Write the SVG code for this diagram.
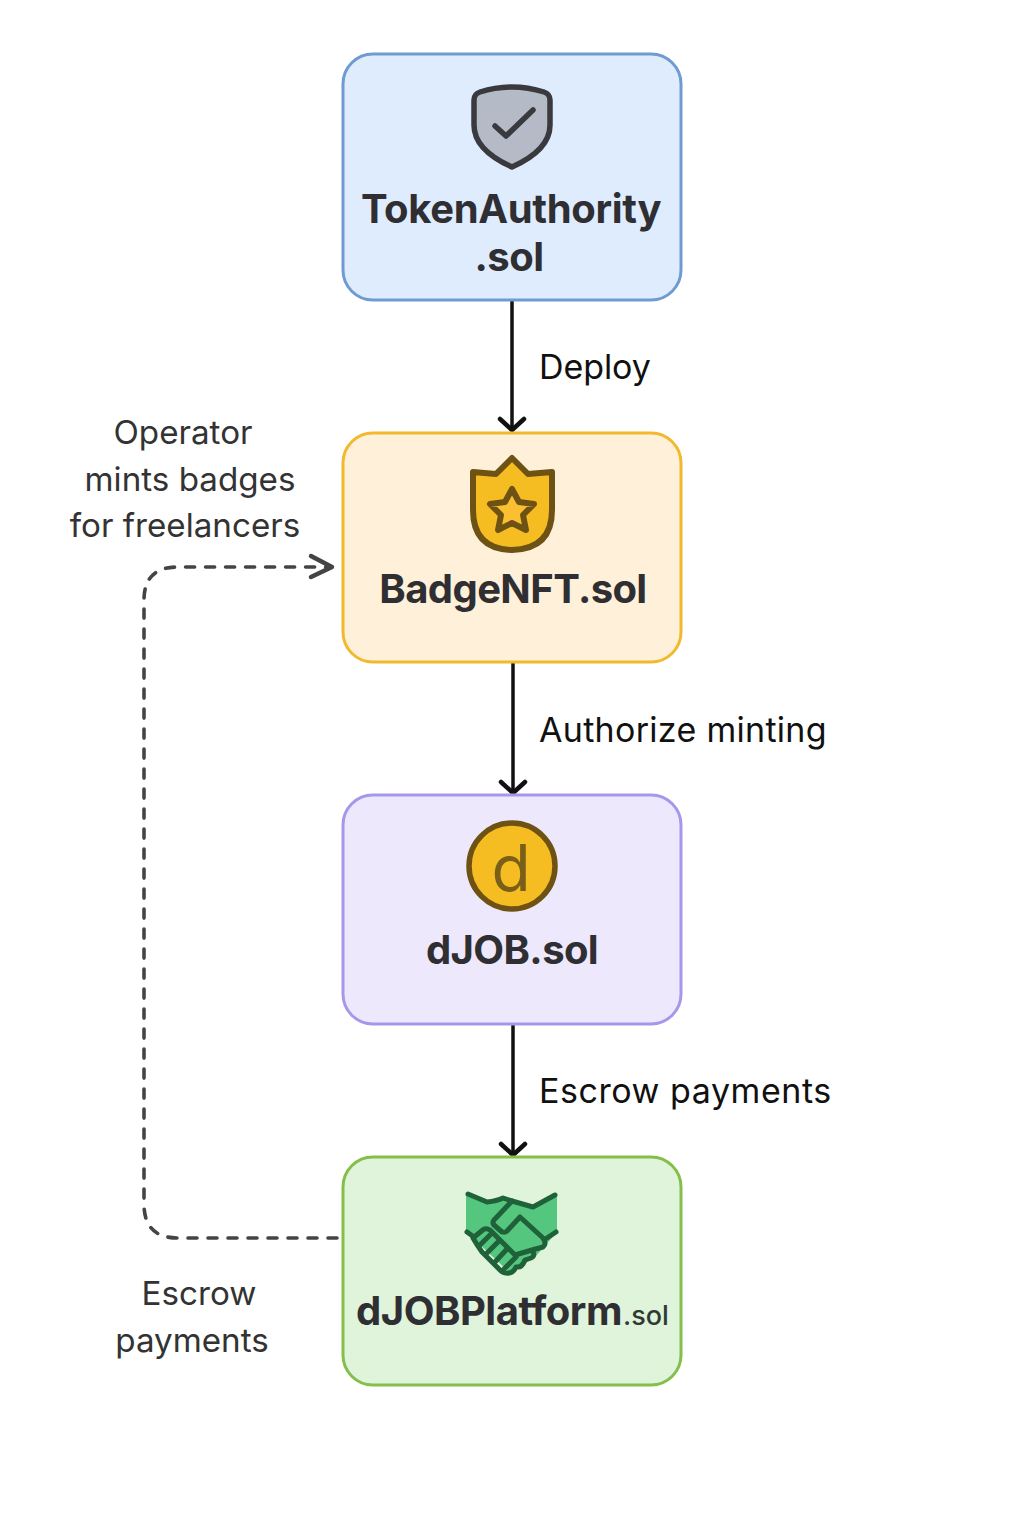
<svg xmlns="http://www.w3.org/2000/svg" width="1024" height="1536" viewBox="0 0 1024 1536">
<style>
.box{stroke-width:3}
.t{font-family:Inter,"Liberation Sans",sans-serif;font-weight:700;font-size:40px;fill:#2f2f33;text-anchor:middle;letter-spacing:-.5px}
.l{font-family:Inter,"Liberation Sans",sans-serif;font-size:34px;fill:#111;letter-spacing:.3px}
.n{font-family:Inter,"Liberation Sans",sans-serif;font-size:33.2px;fill:#333;text-anchor:middle}
.c{fill:none;stroke:#111;stroke-width:3.5;stroke-linecap:round;stroke-linejoin:round}
.h{stroke-width:4.5}
.d{fill:none;stroke:#444;stroke-width:3.6;stroke-linecap:round;stroke-linejoin:round}
.ic{stroke-linecap:round;stroke-linejoin:round}
</style>
<rect width="1024" height="1536" fill="#fff"/>
<g id="connectors">
<path class="c" d="M512 301V428"/><path class="c h" d="M500 419L512 430L524 419"/>
<path class="c" d="M513 663V791"/><path class="c h" d="M501 782L513 793L525 782"/>
<path class="c" d="M513 1025V1153"/><path class="c h" d="M501 1144L513 1155L525 1144"/>
<path class="d" stroke-dasharray="9 11" d="M337 1238H178Q144 1238 144 1204V600Q144 567 178 567H326"/>
<path class="d" style="stroke-width:4.5" d="M311 556L332 567L311 577"/>
</g>
<g id="token-authority">
<rect class="box" x="343" y="54" width="338" height="246" rx="30" fill="#deecfe" stroke="#6f9bd1"/>
<path class="ic" d="M474 100Q474 94 480 92Q512 82 544 92Q550 94 550 100V125Q550 150 512 167Q474 150 474 125Z" fill="#b4bbc7" stroke="#3a3a3e" stroke-width="5.5"/>
<path class="ic" d="M495 126L506 136L533 110" fill="none" stroke="#3a3a3e" stroke-width="5.5"/>
<text class="t" x="511" y="223" style="letter-spacing:-.35px">TokenAuthority</text>
<text class="t" x="509" y="271">.sol</text>
</g>
<g id="badge-nft">
<rect class="box" x="343" y="433" width="338" height="229" rx="30" fill="#fff1d9" stroke="#f2b92f"/>
<path class="ic" d="M473 472L496 474L512 458L528 474L552 472V510Q552 549 512 550Q473 549 473 510Z" fill="#f6bd22" stroke="#6e5213" stroke-width="6"/>
<path class="ic" d="M512 489L519 502L534 504L523 515L526 530L512 523L498 530L501 515L490 504L505 502Z" fill="#fbc032" stroke="#6e5213" stroke-width="6"/>
<text class="t" x="513" y="603" style="letter-spacing:-.6px">BadgeNFT.sol</text>
</g>
<g id="djob">
<rect class="box" x="343" y="795" width="338" height="229" rx="30" fill="#eee8fd" stroke="#a797ea"/>
<circle cx="512" cy="866" r="43" fill="#f6bd22" stroke="#6e5213" stroke-width="5.5"/>
<text x="511" y="891" font-family="Inter,'Liberation Sans',sans-serif" font-size="64" fill="#7a5f18" text-anchor="middle">d</text>
<text class="t" x="512" y="964" style="letter-spacing:-.6px">dJOB.sol</text>
</g>
<g id="djob-platform">
<rect class="box" x="343" y="1157" width="338" height="228" rx="30" fill="#dff4da" stroke="#84bf49"/>
<path d="M466 1194L487 1202L503 1198L512 1201L533 1207L557 1194V1232L535 1257L510 1273L473 1238L466 1232Z" fill="#55c67d"/>
<g class="ic" fill="none" stroke="#1f6239" stroke-width="5">
<path d="M468 1194L487 1202Q497 1201 503 1198L512 1201L533 1207L555 1195M467 1232L474 1237M556 1232L547 1238"/>
<path d="M512 1201L494 1220Q492 1223 494 1225L502 1232Q505 1233 507 1231L520 1217L543 1238Q547 1244 543 1247L532 1250Q536 1256 531 1258L525 1260Q522 1268 516 1267Q513 1274 506 1273Q503 1273 500 1270L482 1252Q477 1245 473 1238L484 1229Q487 1228 490 1230L515 1255L532 1250"/>
<path d="M490 1235L479 1246M498 1242L487 1253M507 1249L495 1262M516 1257L504 1269"/>
</g>
<text class="t" x="489" y="1325">dJOBPlatform</text><text x="646" y="1325" font-family="Inter,'Liberation Sans',sans-serif" font-weight="500" font-size="27" fill="#2f3a33" text-anchor="middle">.sol</text>
</g>
<g id="labels">
<text class="l" x="539" y="379" style="letter-spacing:-.1px">Deploy</text>
<text class="l" x="539" y="742">Authorize minting</text>
<text class="l" x="539" y="1103" style="letter-spacing:.55px">Escrow payments</text>
<text class="n" x="183" y="444">Operator</text>
<text class="n" x="190" y="491">mints badges</text>
<text class="n" x="185" y="537">for freelancers</text>
<text class="n" x="199" y="1305">Escrow</text>
<text class="n" x="192" y="1352">payments</text>
</g>
</svg>
